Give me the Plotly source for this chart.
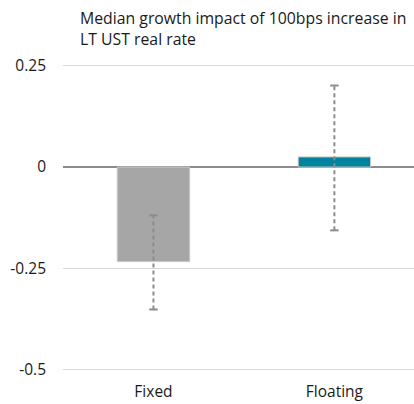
import plotly.graph_objects as go

# Median impact by rate type, with the range of estimates
categories = ["Fixed", "Floating"]
medians = [-0.233, 0.025]
range_high = [-0.119, 0.201]
range_low = [-0.351, -0.156]
bar_colors = ["#a6a6a6", "#00849e"]

tick_vals = [0.25, 0, -0.25, -0.5]
tick_text = ["0.25", "0", "-0.25", "-0.5"]

FONT = "Open Sans, Noto Sans, sans-serif"

fig = go.Figure()
fig.add_trace(go.Bar(
    x=categories, y=medians,
    marker=dict(color=bar_colors, line=dict(color="#c8c8c8", width=1)),
    width=0.4, showlegend=False, hoverinfo="skip",
))

# Dashed range whiskers with small caps
for cat, lo, hi in zip(categories, range_low, range_high):
    fig.add_trace(go.Scatter(
        x=[cat, cat], y=[lo, hi], mode="lines",
        line=dict(color="#8c8c8c", width=2, dash="4px,3px"),
        showlegend=False, hoverinfo="skip",
    ))
    fig.add_trace(go.Scatter(
        x=[cat, cat], y=[lo, hi], mode="markers",
        marker=dict(symbol="line-ew", size=6, line=dict(color="#8c8c8c", width=2)),
        showlegend=False, hoverinfo="skip",
    ))

fig.add_annotation(
    text="Median growth impact of 100bps increase in<br>LT UST real rate",
    xref="paper", yref="paper", x=(78 - 63) / 351, y=1 + 59 / 310,
    xanchor="left", yanchor="top", align="left", showarrow=False,
    font=dict(family=FONT, size=15.8, color="#1a1a1a"),
)

fig.update_layout(
    width=414, height=404,
    margin=dict(l=63, r=0, t=64, b=30),
    paper_bgcolor="white", plot_bgcolor="white",
    font=dict(family=FONT, size=15, color="#1a1a1a"),
    xaxis=dict(range=[-0.5, 1.44], showgrid=False, zeroline=False,
               showline=False, ticks="", tickfont=dict(size=15.5),
               ticklabelstandoff=6),
    yaxis=dict(range=[-0.51, 0.254], tickvals=tick_vals, ticktext=tick_text,
               showgrid=True, gridcolor="#d9d9d9", gridwidth=1,
               zeroline=True, zerolinecolor="#8c8c8c", zerolinewidth=2,
               showline=False, ticks="", ticklabelstandoff=16,
               tickfont=dict(size=15.5)),
)

fig.write_html("out.html")
